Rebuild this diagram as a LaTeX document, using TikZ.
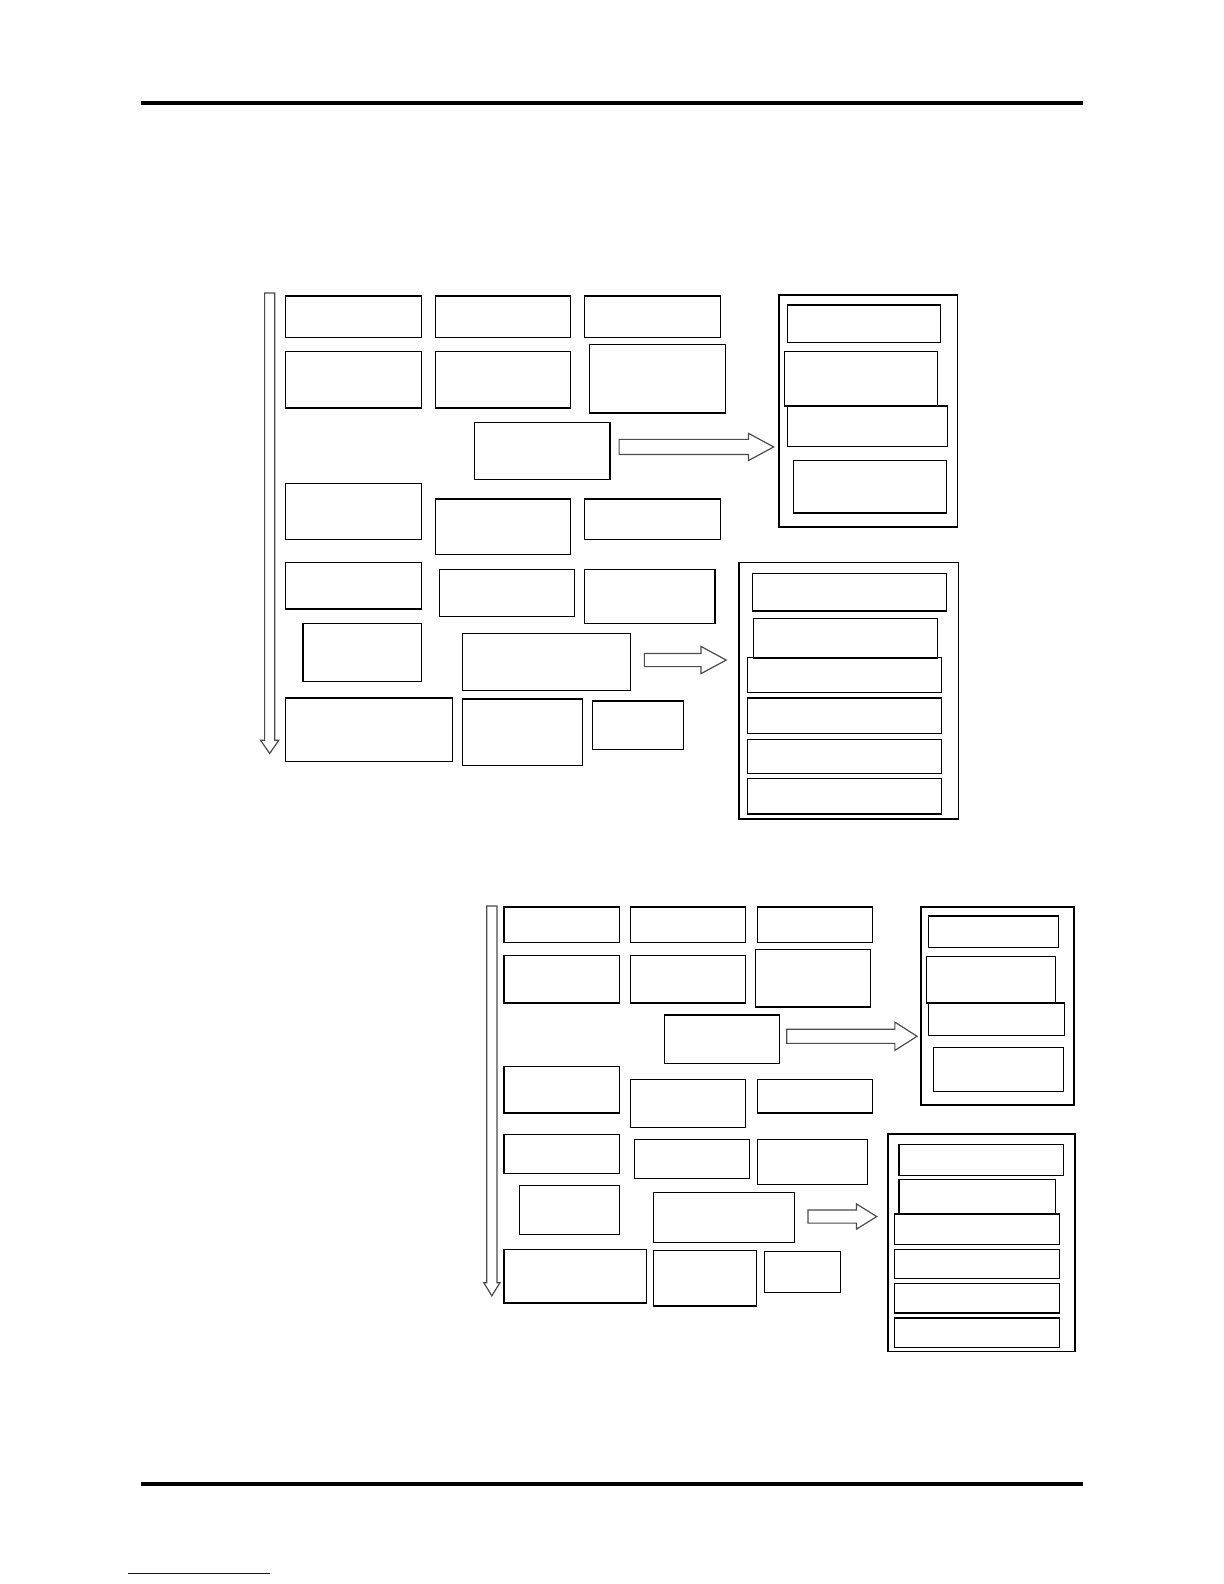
\documentclass[tikz,border=0pt]{standalone}
\usetikzlibrary{fit}

\tikzset{
  cell/.style={draw, line width=0.6pt, inner sep=0pt},
  frame/.style={draw, line width=0.85pt, inner sep=0pt},
  blockarr/.style={draw=black!70, line width=0.6pt, line join=miter, fill=white},
  rule/.style={line width=2pt}
}

\begin{document}
\begin{tikzpicture}[line cap=butt,line join=miter,x=0.505pt,y=-0.505pt]
\useasboundingbox (0pt,0pt) rectangle (612pt,-792pt);
% page rules
\coordinate (rtl) at (140,102);
\coordinate (rtr) at (1072,102);
\coordinate (rbl) at (140,1469);
\coordinate (rbr) at (1072,1469);
\draw [rule] (rtl) -- (rtr);
\draw [rule] (rbl) -- (rbr);
\coordinate (fnl) at (127,1558);
\coordinate (fnr) at (267,1558);
\draw [blue!70!black, line width=0.6pt] (fnl) -- (fnr);

% ---- first chart ----
\draw [blockarr] (262,290) -- (272,290) -- (272,733) -- (276,733) -- (267,746) -- (258,733) -- (262,733) -- cycle;
\node [cell, fit={(283,293) (417,334)}] (p11) {};
\node [cell, fit={(431,293) (565,334)}] (p12) {};
\node [cell, fit={(579,293) (713,334)}] (p13) {};
\node [cell, fit={(283,348) (417,404)}] (p21) {};
\node [cell, fit={(431,348) (565,404)}] (p22) {};
\node [cell, fit={(584,341) (718,409)}] (p23) {};
\node [cell, fit={(470,418) (604,475)}] (p32) {};
\node [cell, fit={(283,479) (417,534)}] (p41) {};
\node [cell, fit={(431,494) (565,549)}] (p42) {};
\node [cell, fit={(579,494) (713,534)}] (p43) {};
\node [cell, fit={(283,557) (417,603)}] (p51) {};
\node [cell, fit={(435,564) (569,610)}] (p52) {};
\node [cell, fit={(579,564) (708,617)}] (p53) {};
\node [cell, fit={(300,617) (417,675)}] (p61) {};
\node [cell, fit={(458,627) (624,684)}] (p62) {};
\node [cell, fit={(283,691) (448,754)}] (p71) {};
\node [cell, fit={(458,692) (577,758)}] (p72) {};
\node [cell, fit={(587,694) (677,742)}] (p73) {};
% side lists
\node [frame, fit={(771,292) (948,522)}] (pa) {};
\node [cell, fit={(780,302) (931,339)}] (pa1) {};
\node [cell, fit={(777,348) (928,402)}] (pa2) {};
\node [cell, fit={(780,402) (938,442)}] (pa3) {};
\node [cell, fit={(786,456) (937,508)}] (pa4) {};
\node [frame, fit={(732,557) (949,811)}] (pb) {};
\node [cell, fit={(745,568) (937,605)}] (pb1) {};
\node [cell, fit={(746,612) (928,652)}] (pb2) {};
\node [cell, fit={(740,651) (932,686)}] (pb3) {};
\node [cell, fit={(740,691) (932,726)}] (pb4) {};
\node [cell, fit={(740,732) (932,766)}] (pb5) {};
\node [cell, fit={(740,771) (932,806)}] (pb6) {};
\draw [blockarr] (613,435) -- (741,435) -- (741,429) -- (766,442.5) -- (741,456) -- (741,450) -- (613,450) -- cycle;
\draw [blockarr] (638,647) -- (694,647) -- (694,640) -- (719,653.5) -- (694,667) -- (694,660) -- (638,660) -- cycle;

% ---- second chart ----
\draw [blockarr] (482,897) -- (492,897) -- (492,1270) -- (495,1270) -- (487,1283) -- (479,1270) -- (482,1270) -- cycle;
\node [cell, fit={(499,898) (613,933)}] (q11) {};
\node [cell, fit={(624,898) (738,933)}] (q12) {};
\node [cell, fit={(750,898) (864,933)}] (q13) {};
\node [cell, fit={(499,946) (613,993)}] (q21) {};
\node [cell, fit={(624,946) (738,993)}] (q22) {};
\node [cell, fit={(748,940) (862,997)}] (q23) {};
\node [cell, fit={(658,1005) (772,1053)}] (q32) {};
\node [cell, fit={(499,1056) (613,1102)}] (q41) {};
\node [cell, fit={(624,1069) (738,1116)}] (q42) {};
\node [cell, fit={(750,1069) (864,1102)}] (q43) {};
\node [cell, fit={(499,1123) (613,1162)}] (q51) {};
\node [cell, fit={(628,1128) (742,1167)}] (q52) {};
\node [cell, fit={(750,1128) (859,1173)}] (q53) {};
\node [cell, fit={(514,1174) (613,1222)}] (q61) {};
\node [cell, fit={(647,1181) (787,1230)}] (q62) {};
\node [cell, fit={(499,1237) (640,1290)}] (q71) {};
\node [cell, fit={(647,1238) (749,1293)}] (q72) {};
\node [cell, fit={(757,1239) (832,1280)}] (q73) {};
% side lists
\node [frame, fit={(912,898) (1063,1094)}] (qa) {};
\node [cell, fit={(919,907) (1048,938)}] (qa1) {};
\node [cell, fit={(917,947) (1045,993)}] (qa2) {};
\node [cell, fit={(919,993) (1054,1025)}] (qa3) {};
\node [cell, fit={(924,1037) (1053,1081)}] (qa4) {};
\node [frame, fit={(879,1123) (1064,1338)}] (qb) {};
\node [cell, fit={(890,1133) (1053,1164)}] (qb1) {};
\node [cell, fit={(890,1168) (1045,1202)}] (qb2) {};
\node [cell, fit={(886,1202) (1049,1232)}] (qb3) {};
\node [cell, fit={(886,1237) (1049,1266)}] (qb4) {};
\node [cell, fit={(886,1271) (1049,1300)}] (qb5) {};
\node [cell, fit={(886,1305) (1049,1334)}] (qb6) {};
\draw [blockarr] (779,1019) -- (886,1019) -- (886,1012) -- (908,1026) -- (886,1040) -- (886,1033) -- (779,1033) -- cycle;
\draw [blockarr] (800,1198) -- (848,1198) -- (848,1192) -- (868,1204.5) -- (848,1217) -- (848,1211) -- (800,1211) -- cycle;
\end{tikzpicture}
\end{document}
